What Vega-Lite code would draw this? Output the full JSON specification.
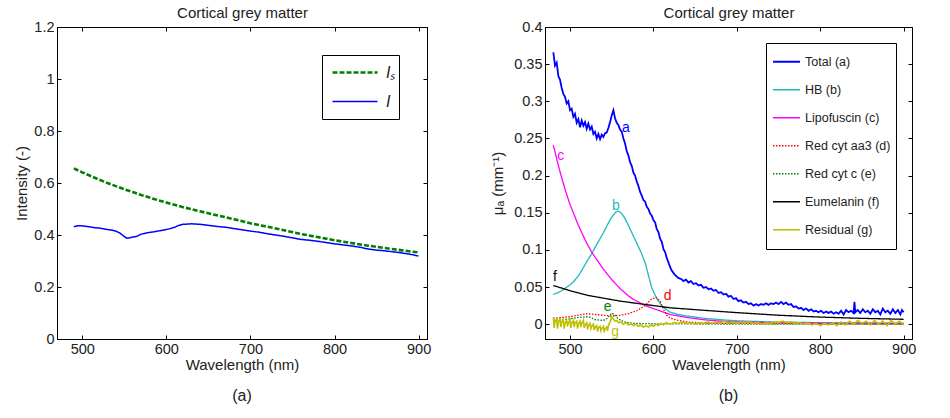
{
  "$schema": "https://vega.github.io/schema/vega-lite/v6.json",
  "padding": {"left": 14, "top": 5, "right": 5, "bottom": 5},
  "background": "white",
  "config": {
    "font": "Liberation Sans",
    "view": {"stroke": "#000", "strokeWidth": 1},
    "axis": {"grid": false, "domainColor": "#000", "tickColor": "#000", "tickSize": -4, "labelPadding": 7, "labelFontSize": 14.5, "labelColor": "#222", "titleFontSize": 15, "titleFontWeight": "normal", "titleColor": "#222", "labelFont": "Liberation Sans", "titleFont": "Liberation Sans"},
    "title": {"font": "Liberation Sans", "fontWeight": "normal", "color": "#222"}
  },
  "datasets": {
    "left": [
      {"series":"Iₛ","wl":490,"val":0.656},{"series":"Iₛ","wl":500,"val":0.641},{"series":"Iₛ","wl":510,"val":0.627},{"series":"Iₛ","wl":520,"val":0.613},{"series":"Iₛ","wl":530,"val":0.600},{"series":"Iₛ","wl":540,"val":0.588},{"series":"Iₛ","wl":550,"val":0.576},{"series":"Iₛ","wl":560,"val":0.565},{"series":"Iₛ","wl":570,"val":0.554},{"series":"Iₛ","wl":580,"val":0.544},{"series":"Iₛ","wl":590,"val":0.534},{"series":"Iₛ","wl":600,"val":0.525},{"series":"Iₛ","wl":620,"val":0.507},{"series":"Iₛ","wl":640,"val":0.491},{"series":"Iₛ","wl":660,"val":0.476},{"series":"Iₛ","wl":680,"val":0.461},{"series":"Iₛ","wl":700,"val":0.445},{"series":"Iₛ","wl":720,"val":0.432},{"series":"Iₛ","wl":740,"val":0.418},{"series":"Iₛ","wl":760,"val":0.404},{"series":"Iₛ","wl":780,"val":0.392},{"series":"Iₛ","wl":800,"val":0.380},{"series":"Iₛ","wl":820,"val":0.369},{"series":"Iₛ","wl":840,"val":0.359},{"series":"Iₛ","wl":860,"val":0.350},{"series":"Iₛ","wl":880,"val":0.341},{"series":"Iₛ","wl":900,"val":0.333},
      {"series":"I","wl":490,"val":0.432},{"series":"I","wl":495,"val":0.436},{"series":"I","wl":500,"val":0.435},{"series":"I","wl":505,"val":0.433},{"series":"I","wl":510,"val":0.431},{"series":"I","wl":515,"val":0.428},{"series":"I","wl":520,"val":0.427},{"series":"I","wl":525,"val":0.424},{"series":"I","wl":530,"val":0.421},{"series":"I","wl":535,"val":0.419},{"series":"I","wl":540,"val":0.415},{"series":"I","wl":545,"val":0.407},{"series":"I","wl":550,"val":0.394},{"series":"I","wl":553,"val":0.388},{"series":"I","wl":556,"val":0.389},{"series":"I","wl":560,"val":0.392},{"series":"I","wl":565,"val":0.395},{"series":"I","wl":570,"val":0.403},{"series":"I","wl":575,"val":0.407},{"series":"I","wl":580,"val":0.410},{"series":"I","wl":585,"val":0.412},{"series":"I","wl":590,"val":0.415},{"series":"I","wl":595,"val":0.418},{"series":"I","wl":600,"val":0.421},{"series":"I","wl":605,"val":0.425},{"series":"I","wl":610,"val":0.430},{"series":"I","wl":615,"val":0.437},{"series":"I","wl":620,"val":0.441},{"series":"I","wl":625,"val":0.442},{"series":"I","wl":630,"val":0.443},{"series":"I","wl":635,"val":0.442},{"series":"I","wl":640,"val":0.441},{"series":"I","wl":650,"val":0.437},{"series":"I","wl":660,"val":0.433},{"series":"I","wl":670,"val":0.430},{"series":"I","wl":680,"val":0.425},{"series":"I","wl":690,"val":0.420},{"series":"I","wl":700,"val":0.415},{"series":"I","wl":710,"val":0.411},{"series":"I","wl":720,"val":0.405},{"series":"I","wl":730,"val":0.400},{"series":"I","wl":740,"val":0.395},{"series":"I","wl":750,"val":0.389},{"series":"I","wl":760,"val":0.383},{"series":"I","wl":770,"val":0.380},{"series":"I","wl":780,"val":0.376},{"series":"I","wl":790,"val":0.371},{"series":"I","wl":800,"val":0.366},{"series":"I","wl":810,"val":0.362},{"series":"I","wl":820,"val":0.358},{"series":"I","wl":830,"val":0.353},{"series":"I","wl":840,"val":0.346},{"series":"I","wl":850,"val":0.342},{"series":"I","wl":860,"val":0.339},{"series":"I","wl":870,"val":0.335},{"series":"I","wl":880,"val":0.331},{"series":"I","wl":890,"val":0.326},{"series":"I","wl":900,"val":0.319}
    ],
    "right": [
      {"series":"Total (a)","wl":480,"mua":0.366},{"series":"Total (a)","wl":482,"mua":0.348},{"series":"Total (a)","wl":484,"mua":0.352},{"series":"Total (a)","wl":486,"mua":0.334},{"series":"Total (a)","wl":488,"mua":0.329},{"series":"Total (a)","wl":490,"mua":0.318},{"series":"Total (a)","wl":492,"mua":0.310},{"series":"Total (a)","wl":494,"mua":0.306},{"series":"Total (a)","wl":496,"mua":0.297},{"series":"Total (a)","wl":498,"mua":0.300},{"series":"Total (a)","wl":500,"mua":0.288},{"series":"Total (a)","wl":502,"mua":0.290},{"series":"Total (a)","wl":504,"mua":0.279},{"series":"Total (a)","wl":506,"mua":0.283},{"series":"Total (a)","wl":508,"mua":0.271},{"series":"Total (a)","wl":510,"mua":0.276},{"series":"Total (a)","wl":512,"mua":0.265},{"series":"Total (a)","wl":514,"mua":0.274},{"series":"Total (a)","wl":516,"mua":0.267},{"series":"Total (a)","wl":518,"mua":0.272},{"series":"Total (a)","wl":520,"mua":0.263},{"series":"Total (a)","wl":522,"mua":0.270},{"series":"Total (a)","wl":524,"mua":0.262},{"series":"Total (a)","wl":526,"mua":0.266},{"series":"Total (a)","wl":528,"mua":0.256},{"series":"Total (a)","wl":530,"mua":0.259},{"series":"Total (a)","wl":532,"mua":0.250},{"series":"Total (a)","wl":534,"mua":0.256},{"series":"Total (a)","wl":536,"mua":0.249},{"series":"Total (a)","wl":538,"mua":0.255},{"series":"Total (a)","wl":540,"mua":0.252},{"series":"Total (a)","wl":542,"mua":0.257},{"series":"Total (a)","wl":544,"mua":0.258},{"series":"Total (a)","wl":546,"mua":0.264},{"series":"Total (a)","wl":548,"mua":0.272},{"series":"Total (a)","wl":550,"mua":0.281},{"series":"Total (a)","wl":552,"mua":0.288},{"series":"Total (a)","wl":554,"mua":0.277},{"series":"Total (a)","wl":556,"mua":0.271},{"series":"Total (a)","wl":558,"mua":0.268},{"series":"Total (a)","wl":560,"mua":0.262},{"series":"Total (a)","wl":562,"mua":0.259},{"series":"Total (a)","wl":564,"mua":0.250},{"series":"Total (a)","wl":566,"mua":0.243},{"series":"Total (a)","wl":568,"mua":0.233},{"series":"Total (a)","wl":570,"mua":0.227},{"series":"Total (a)","wl":572,"mua":0.218},{"series":"Total (a)","wl":574,"mua":0.213},{"series":"Total (a)","wl":576,"mua":0.204},{"series":"Total (a)","wl":578,"mua":0.200},{"series":"Total (a)","wl":580,"mua":0.192},{"series":"Total (a)","wl":582,"mua":0.186},{"series":"Total (a)","wl":584,"mua":0.178},{"series":"Total (a)","wl":586,"mua":0.173},{"series":"Total (a)","wl":588,"mua":0.167},{"series":"Total (a)","wl":590,"mua":0.165},{"series":"Total (a)","wl":592,"mua":0.158},{"series":"Total (a)","wl":594,"mua":0.155},{"series":"Total (a)","wl":596,"mua":0.149},{"series":"Total (a)","wl":598,"mua":0.146},{"series":"Total (a)","wl":600,"mua":0.140},{"series":"Total (a)","wl":602,"mua":0.137},{"series":"Total (a)","wl":604,"mua":0.128},{"series":"Total (a)","wl":606,"mua":0.124},{"series":"Total (a)","wl":608,"mua":0.115},{"series":"Total (a)","wl":610,"mua":0.111},{"series":"Total (a)","wl":612,"mua":0.101},{"series":"Total (a)","wl":614,"mua":0.097},{"series":"Total (a)","wl":616,"mua":0.089},{"series":"Total (a)","wl":618,"mua":0.083},{"series":"Total (a)","wl":620,"mua":0.077},{"series":"Total (a)","wl":622,"mua":0.072},{"series":"Total (a)","wl":624,"mua":0.069},{"series":"Total (a)","wl":626,"mua":0.066},{"series":"Total (a)","wl":628,"mua":0.064},{"series":"Total (a)","wl":630,"mua":0.062},{"series":"Total (a)","wl":633,"mua":0.061},{"series":"Total (a)","wl":636,"mua":0.058},{"series":"Total (a)","wl":639,"mua":0.060},{"series":"Total (a)","wl":642,"mua":0.056},{"series":"Total (a)","wl":645,"mua":0.058},{"series":"Total (a)","wl":648,"mua":0.054},{"series":"Total (a)","wl":651,"mua":0.055},{"series":"Total (a)","wl":654,"mua":0.052},{"series":"Total (a)","wl":657,"mua":0.053},{"series":"Total (a)","wl":660,"mua":0.049},{"series":"Total (a)","wl":663,"mua":0.050},{"series":"Total (a)","wl":666,"mua":0.047},{"series":"Total (a)","wl":669,"mua":0.048},{"series":"Total (a)","wl":672,"mua":0.045},{"series":"Total (a)","wl":675,"mua":0.046},{"series":"Total (a)","wl":678,"mua":0.042},{"series":"Total (a)","wl":681,"mua":0.043},{"series":"Total (a)","wl":684,"mua":0.040},{"series":"Total (a)","wl":687,"mua":0.041},{"series":"Total (a)","wl":690,"mua":0.037},{"series":"Total (a)","wl":693,"mua":0.038},{"series":"Total (a)","wl":696,"mua":0.034},{"series":"Total (a)","wl":699,"mua":0.035},{"series":"Total (a)","wl":702,"mua":0.031},{"series":"Total (a)","wl":705,"mua":0.032},{"series":"Total (a)","wl":708,"mua":0.029},{"series":"Total (a)","wl":711,"mua":0.030},{"series":"Total (a)","wl":714,"mua":0.027},{"series":"Total (a)","wl":717,"mua":0.028},{"series":"Total (a)","wl":720,"mua":0.025},{"series":"Total (a)","wl":723,"mua":0.027},{"series":"Total (a)","wl":726,"mua":0.025},{"series":"Total (a)","wl":729,"mua":0.027},{"series":"Total (a)","wl":732,"mua":0.026},{"series":"Total (a)","wl":735,"mua":0.028},{"series":"Total (a)","wl":738,"mua":0.026},{"series":"Total (a)","wl":741,"mua":0.028},{"series":"Total (a)","wl":744,"mua":0.027},{"series":"Total (a)","wl":747,"mua":0.029},{"series":"Total (a)","wl":750,"mua":0.027},{"series":"Total (a)","wl":753,"mua":0.030},{"series":"Total (a)","wl":756,"mua":0.027},{"series":"Total (a)","wl":759,"mua":0.029},{"series":"Total (a)","wl":762,"mua":0.026},{"series":"Total (a)","wl":765,"mua":0.027},{"series":"Total (a)","wl":768,"mua":0.023},{"series":"Total (a)","wl":771,"mua":0.024},{"series":"Total (a)","wl":774,"mua":0.021},{"series":"Total (a)","wl":777,"mua":0.022},{"series":"Total (a)","wl":780,"mua":0.019},{"series":"Total (a)","wl":783,"mua":0.021},{"series":"Total (a)","wl":786,"mua":0.018},{"series":"Total (a)","wl":789,"mua":0.020},{"series":"Total (a)","wl":792,"mua":0.017},{"series":"Total (a)","wl":795,"mua":0.018},{"series":"Total (a)","wl":798,"mua":0.016},{"series":"Total (a)","wl":801,"mua":0.018},{"series":"Total (a)","wl":804,"mua":0.015},{"series":"Total (a)","wl":807,"mua":0.017},{"series":"Total (a)","wl":810,"mua":0.015},{"series":"Total (a)","wl":813,"mua":0.017},{"series":"Total (a)","wl":816,"mua":0.014},{"series":"Total (a)","wl":819,"mua":0.016},{"series":"Total (a)","wl":822,"mua":0.014},{"series":"Total (a)","wl":825,"mua":0.018},{"series":"Total (a)","wl":828,"mua":0.013},{"series":"Total (a)","wl":831,"mua":0.019},{"series":"Total (a)","wl":834,"mua":0.016},{"series":"Total (a)","wl":837,"mua":0.018},{"series":"Total (a)","wl":840,"mua":0.015},{"series":"Total (a)","wl":841,"mua":0.030},{"series":"Total (a)","wl":842,"mua":0.016},{"series":"Total (a)","wl":845,"mua":0.019},{"series":"Total (a)","wl":848,"mua":0.015},{"series":"Total (a)","wl":851,"mua":0.020},{"series":"Total (a)","wl":854,"mua":0.016},{"series":"Total (a)","wl":857,"mua":0.018},{"series":"Total (a)","wl":860,"mua":0.014},{"series":"Total (a)","wl":863,"mua":0.020},{"series":"Total (a)","wl":866,"mua":0.016},{"series":"Total (a)","wl":869,"mua":0.018},{"series":"Total (a)","wl":872,"mua":0.013},{"series":"Total (a)","wl":875,"mua":0.021},{"series":"Total (a)","wl":878,"mua":0.016},{"series":"Total (a)","wl":881,"mua":0.018},{"series":"Total (a)","wl":884,"mua":0.014},{"series":"Total (a)","wl":887,"mua":0.020},{"series":"Total (a)","wl":890,"mua":0.015},{"series":"Total (a)","wl":893,"mua":0.019},{"series":"Total (a)","wl":896,"mua":0.013},{"series":"Total (a)","wl":898,"mua":0.019},{"series":"Total (a)","wl":900,"mua":0.016},
      {"series":"HB (b)","wl":480,"mua":0.040},{"series":"HB (b)","wl":485,"mua":0.042},{"series":"HB (b)","wl":490,"mua":0.045},{"series":"HB (b)","wl":495,"mua":0.049},{"series":"HB (b)","wl":500,"mua":0.053},{"series":"HB (b)","wl":505,"mua":0.058},{"series":"HB (b)","wl":510,"mua":0.065},{"series":"HB (b)","wl":515,"mua":0.074},{"series":"HB (b)","wl":520,"mua":0.084},{"series":"HB (b)","wl":525,"mua":0.093},{"series":"HB (b)","wl":530,"mua":0.103},{"series":"HB (b)","wl":535,"mua":0.113},{"series":"HB (b)","wl":540,"mua":0.123},{"series":"HB (b)","wl":545,"mua":0.134},{"series":"HB (b)","wl":550,"mua":0.144},{"series":"HB (b)","wl":555,"mua":0.151},{"series":"HB (b)","wl":558,"mua":0.152},{"series":"HB (b)","wl":561,"mua":0.150},{"series":"HB (b)","wl":565,"mua":0.144},{"series":"HB (b)","wl":570,"mua":0.133},{"series":"HB (b)","wl":575,"mua":0.121},{"series":"HB (b)","wl":580,"mua":0.109},{"series":"HB (b)","wl":585,"mua":0.097},{"series":"HB (b)","wl":590,"mua":0.083},{"series":"HB (b)","wl":594,"mua":0.066},{"series":"HB (b)","wl":598,"mua":0.049},{"series":"HB (b)","wl":602,"mua":0.039},{"series":"HB (b)","wl":606,"mua":0.031},{"series":"HB (b)","wl":610,"mua":0.025},{"series":"HB (b)","wl":615,"mua":0.020},{"series":"HB (b)","wl":620,"mua":0.016},{"series":"HB (b)","wl":630,"mua":0.013},{"series":"HB (b)","wl":640,"mua":0.011},{"series":"HB (b)","wl":660,"mua":0.008},{"series":"HB (b)","wl":680,"mua":0.006},{"series":"HB (b)","wl":700,"mua":0.0045},{"series":"HB (b)","wl":740,"mua":0.003},{"series":"HB (b)","wl":800,"mua":0.002},{"series":"HB (b)","wl":900,"mua":0.001},
      {"series":"Lipofuscin (c)","wl":480,"mua":0.241},{"series":"Lipofuscin (c)","wl":485,"mua":0.218},{"series":"Lipofuscin (c)","wl":490,"mua":0.197},{"series":"Lipofuscin (c)","wl":495,"mua":0.178},{"series":"Lipofuscin (c)","wl":500,"mua":0.161},{"series":"Lipofuscin (c)","wl":505,"mua":0.147},{"series":"Lipofuscin (c)","wl":510,"mua":0.133},{"series":"Lipofuscin (c)","wl":515,"mua":0.121},{"series":"Lipofuscin (c)","wl":520,"mua":0.109},{"series":"Lipofuscin (c)","wl":525,"mua":0.099},{"series":"Lipofuscin (c)","wl":530,"mua":0.090},{"series":"Lipofuscin (c)","wl":535,"mua":0.082},{"series":"Lipofuscin (c)","wl":540,"mua":0.074},{"series":"Lipofuscin (c)","wl":545,"mua":0.067},{"series":"Lipofuscin (c)","wl":550,"mua":0.060},{"series":"Lipofuscin (c)","wl":555,"mua":0.054},{"series":"Lipofuscin (c)","wl":560,"mua":0.048},{"series":"Lipofuscin (c)","wl":565,"mua":0.043},{"series":"Lipofuscin (c)","wl":570,"mua":0.038},{"series":"Lipofuscin (c)","wl":575,"mua":0.034},{"series":"Lipofuscin (c)","wl":580,"mua":0.031},{"series":"Lipofuscin (c)","wl":585,"mua":0.028},{"series":"Lipofuscin (c)","wl":590,"mua":0.025},{"series":"Lipofuscin (c)","wl":595,"mua":0.023},{"series":"Lipofuscin (c)","wl":600,"mua":0.021},{"series":"Lipofuscin (c)","wl":610,"mua":0.017},{"series":"Lipofuscin (c)","wl":620,"mua":0.013},{"series":"Lipofuscin (c)","wl":630,"mua":0.011},{"series":"Lipofuscin (c)","wl":640,"mua":0.009},{"series":"Lipofuscin (c)","wl":660,"mua":0.006},{"series":"Lipofuscin (c)","wl":680,"mua":0.004},{"series":"Lipofuscin (c)","wl":700,"mua":0.003},{"series":"Lipofuscin (c)","wl":750,"mua":0.002},{"series":"Lipofuscin (c)","wl":800,"mua":0.0015},{"series":"Lipofuscin (c)","wl":900,"mua":0.001},
      {"series":"Red cyt aa3 (d)","wl":480,"mua":0.008},{"series":"Red cyt aa3 (d)","wl":490,"mua":0.009},{"series":"Red cyt aa3 (d)","wl":500,"mua":0.010},{"series":"Red cyt aa3 (d)","wl":510,"mua":0.012},{"series":"Red cyt aa3 (d)","wl":520,"mua":0.014},{"series":"Red cyt aa3 (d)","wl":530,"mua":0.013},{"series":"Red cyt aa3 (d)","wl":540,"mua":0.012},{"series":"Red cyt aa3 (d)","wl":550,"mua":0.011},{"series":"Red cyt aa3 (d)","wl":560,"mua":0.012},{"series":"Red cyt aa3 (d)","wl":570,"mua":0.014},{"series":"Red cyt aa3 (d)","wl":580,"mua":0.018},{"series":"Red cyt aa3 (d)","wl":590,"mua":0.025},{"series":"Red cyt aa3 (d)","wl":597,"mua":0.033},{"series":"Red cyt aa3 (d)","wl":603,"mua":0.036},{"series":"Red cyt aa3 (d)","wl":608,"mua":0.031},{"series":"Red cyt aa3 (d)","wl":612,"mua":0.020},{"series":"Red cyt aa3 (d)","wl":616,"mua":0.012},{"series":"Red cyt aa3 (d)","wl":620,"mua":0.008},{"series":"Red cyt aa3 (d)","wl":630,"mua":0.005},{"series":"Red cyt aa3 (d)","wl":640,"mua":0.003},{"series":"Red cyt aa3 (d)","wl":660,"mua":0.0015},{"series":"Red cyt aa3 (d)","wl":700,"mua":0.001},{"series":"Red cyt aa3 (d)","wl":800,"mua":0.0005},{"series":"Red cyt aa3 (d)","wl":900,"mua":0.0},
      {"series":"Red cyt c (e)","wl":480,"mua":0.005},{"series":"Red cyt c (e)","wl":490,"mua":0.006},{"series":"Red cyt c (e)","wl":500,"mua":0.007},{"series":"Red cyt c (e)","wl":510,"mua":0.009},{"series":"Red cyt c (e)","wl":520,"mua":0.010},{"series":"Red cyt c (e)","wl":525,"mua":0.009},{"series":"Red cyt c (e)","wl":530,"mua":0.006},{"series":"Red cyt c (e)","wl":540,"mua":0.005},{"series":"Red cyt c (e)","wl":545,"mua":0.008},{"series":"Red cyt c (e)","wl":550,"mua":0.015},{"series":"Red cyt c (e)","wl":553,"mua":0.013},{"series":"Red cyt c (e)","wl":558,"mua":0.007},{"series":"Red cyt c (e)","wl":565,"mua":0.003},{"series":"Red cyt c (e)","wl":575,"mua":0.001},{"series":"Red cyt c (e)","wl":600,"mua":0.0005},{"series":"Red cyt c (e)","wl":700,"mua":0.0},{"series":"Red cyt c (e)","wl":900,"mua":0.0},
      {"series":"Eumelanin (f)","wl":480,"mua":0.052},{"series":"Eumelanin (f)","wl":500,"mua":0.045},{"series":"Eumelanin (f)","wl":520,"mua":0.039},{"series":"Eumelanin (f)","wl":540,"mua":0.035},{"series":"Eumelanin (f)","wl":560,"mua":0.031},{"series":"Eumelanin (f)","wl":580,"mua":0.028},{"series":"Eumelanin (f)","wl":600,"mua":0.025},{"series":"Eumelanin (f)","wl":620,"mua":0.022},{"series":"Eumelanin (f)","wl":650,"mua":0.0195},{"series":"Eumelanin (f)","wl":700,"mua":0.0155},{"series":"Eumelanin (f)","wl":750,"mua":0.012},{"series":"Eumelanin (f)","wl":800,"mua":0.0095},{"series":"Eumelanin (f)","wl":850,"mua":0.0078},{"series":"Eumelanin (f)","wl":900,"mua":0.0065},
      {"series":"Residual (g)","wl":480,"mua":0.009},{"series":"Residual (g)","wl":481,"mua":-0.005},{"series":"Residual (g)","wl":482,"mua":0.004},{"series":"Residual (g)","wl":484,"mua":0.007},{"series":"Residual (g)","wl":485,"mua":-0.006},{"series":"Residual (g)","wl":486,"mua":0.002},{"series":"Residual (g)","wl":488,"mua":0.008},{"series":"Residual (g)","wl":489,"mua":-0.004},{"series":"Residual (g)","wl":490,"mua":0.003},{"series":"Residual (g)","wl":492,"mua":0.006},{"series":"Residual (g)","wl":493,"mua":-0.006},{"series":"Residual (g)","wl":494,"mua":0.001},{"series":"Residual (g)","wl":496,"mua":0.005},{"series":"Residual (g)","wl":497,"mua":-0.003},{"series":"Residual (g)","wl":498,"mua":0.002},{"series":"Residual (g)","wl":500,"mua":0.006},{"series":"Residual (g)","wl":501,"mua":-0.005},{"series":"Residual (g)","wl":502,"mua":0.001},{"series":"Residual (g)","wl":504,"mua":0.005},{"series":"Residual (g)","wl":505,"mua":-0.004},{"series":"Residual (g)","wl":506,"mua":0.002},{"series":"Residual (g)","wl":508,"mua":0.004},{"series":"Residual (g)","wl":509,"mua":-0.006},{"series":"Residual (g)","wl":510,"mua":0.000},{"series":"Residual (g)","wl":512,"mua":0.004},{"series":"Residual (g)","wl":513,"mua":-0.004},{"series":"Residual (g)","wl":514,"mua":0.001},{"series":"Residual (g)","wl":516,"mua":0.005},{"series":"Residual (g)","wl":517,"mua":-0.005},{"series":"Residual (g)","wl":518,"mua":-0.001},{"series":"Residual (g)","wl":520,"mua":0.002},{"series":"Residual (g)","wl":521,"mua":-0.007},{"series":"Residual (g)","wl":522,"mua":-0.002},{"series":"Residual (g)","wl":524,"mua":0.001},{"series":"Residual (g)","wl":525,"mua":-0.006},{"series":"Residual (g)","wl":526,"mua":-0.003},{"series":"Residual (g)","wl":528,"mua":0.000},{"series":"Residual (g)","wl":529,"mua":-0.008},{"series":"Residual (g)","wl":530,"mua":-0.004},{"series":"Residual (g)","wl":532,"mua":-0.002},{"series":"Residual (g)","wl":533,"mua":-0.010},{"series":"Residual (g)","wl":534,"mua":-0.005},{"series":"Residual (g)","wl":536,"mua":-0.003},{"series":"Residual (g)","wl":537,"mua":-0.009},{"series":"Residual (g)","wl":538,"mua":-0.006},{"series":"Residual (g)","wl":540,"mua":-0.003},{"series":"Residual (g)","wl":541,"mua":-0.011},{"series":"Residual (g)","wl":542,"mua":-0.006},{"series":"Residual (g)","wl":544,"mua":-0.004},{"series":"Residual (g)","wl":545,"mua":-0.009},{"series":"Residual (g)","wl":546,"mua":-0.002},{"series":"Residual (g)","wl":548,"mua":0.003},{"series":"Residual (g)","wl":550,"mua":0.010},{"series":"Residual (g)","wl":552,"mua":0.007},{"series":"Residual (g)","wl":554,"mua":0.004},{"series":"Residual (g)","wl":556,"mua":0.005},{"series":"Residual (g)","wl":558,"mua":0.002},{"series":"Residual (g)","wl":561,"mua":0.003},{"series":"Residual (g)","wl":564,"mua":0.000},{"series":"Residual (g)","wl":567,"mua":0.002},{"series":"Residual (g)","wl":570,"mua":-0.001},{"series":"Residual (g)","wl":573,"mua":0.001},{"series":"Residual (g)","wl":576,"mua":-0.002},{"series":"Residual (g)","wl":579,"mua":0.000},{"series":"Residual (g)","wl":582,"mua":-0.003},{"series":"Residual (g)","wl":585,"mua":-0.001},{"series":"Residual (g)","wl":588,"mua":-0.004},{"series":"Residual (g)","wl":591,"mua":-0.002},{"series":"Residual (g)","wl":594,"mua":-0.004},{"series":"Residual (g)","wl":597,"mua":-0.001},{"series":"Residual (g)","wl":600,"mua":-0.003},{"series":"Residual (g)","wl":603,"mua":0.000},{"series":"Residual (g)","wl":606,"mua":-0.002},{"series":"Residual (g)","wl":609,"mua":0.001},{"series":"Residual (g)","wl":612,"mua":-0.001},{"series":"Residual (g)","wl":615,"mua":0.002},{"series":"Residual (g)","wl":620,"mua":0.000},{"series":"Residual (g)","wl":625,"mua":0.002},{"series":"Residual (g)","wl":630,"mua":0.001},{"series":"Residual (g)","wl":635,"mua":0.003},{"series":"Residual (g)","wl":640,"mua":0.001},{"series":"Residual (g)","wl":645,"mua":0.002},{"series":"Residual (g)","wl":650,"mua":0.000},{"series":"Residual (g)","wl":655,"mua":0.002},{"series":"Residual (g)","wl":660,"mua":0.001},{"series":"Residual (g)","wl":665,"mua":0.003},{"series":"Residual (g)","wl":670,"mua":0.001},{"series":"Residual (g)","wl":675,"mua":0.003},{"series":"Residual (g)","wl":680,"mua":0.002},{"series":"Residual (g)","wl":685,"mua":0.004},{"series":"Residual (g)","wl":690,"mua":0.002},{"series":"Residual (g)","wl":695,"mua":0.003},{"series":"Residual (g)","wl":700,"mua":0.001},{"series":"Residual (g)","wl":705,"mua":0.003},{"series":"Residual (g)","wl":710,"mua":0.002},{"series":"Residual (g)","wl":715,"mua":0.003},{"series":"Residual (g)","wl":720,"mua":0.001},{"series":"Residual (g)","wl":725,"mua":0.002},{"series":"Residual (g)","wl":730,"mua":0.000},{"series":"Residual (g)","wl":735,"mua":0.002},{"series":"Residual (g)","wl":740,"mua":0.001},{"series":"Residual (g)","wl":745,"mua":0.003},{"series":"Residual (g)","wl":750,"mua":0.002},{"series":"Residual (g)","wl":755,"mua":0.004},{"series":"Residual (g)","wl":760,"mua":0.002},{"series":"Residual (g)","wl":765,"mua":0.003},{"series":"Residual (g)","wl":770,"mua":0.001},{"series":"Residual (g)","wl":775,"mua":0.002},{"series":"Residual (g)","wl":780,"mua":0.000},{"series":"Residual (g)","wl":785,"mua":0.002},{"series":"Residual (g)","wl":790,"mua":-0.001},{"series":"Residual (g)","wl":795,"mua":0.001},{"series":"Residual (g)","wl":800,"mua":-0.002},{"series":"Residual (g)","wl":805,"mua":0.001},{"series":"Residual (g)","wl":810,"mua":-0.001},{"series":"Residual (g)","wl":815,"mua":0.002},{"series":"Residual (g)","wl":820,"mua":-0.002},{"series":"Residual (g)","wl":825,"mua":0.003},{"series":"Residual (g)","wl":830,"mua":-0.001},{"series":"Residual (g)","wl":835,"mua":0.004},{"series":"Residual (g)","wl":840,"mua":0.000},{"series":"Residual (g)","wl":845,"mua":0.005},{"series":"Residual (g)","wl":850,"mua":0.001},{"series":"Residual (g)","wl":855,"mua":0.004},{"series":"Residual (g)","wl":860,"mua":-0.001},{"series":"Residual (g)","wl":865,"mua":0.005},{"series":"Residual (g)","wl":870,"mua":0.000},{"series":"Residual (g)","wl":875,"mua":0.004},{"series":"Residual (g)","wl":880,"mua":-0.002},{"series":"Residual (g)","wl":885,"mua":0.005},{"series":"Residual (g)","wl":890,"mua":0.000},{"series":"Residual (g)","wl":895,"mua":0.004},{"series":"Residual (g)","wl":900,"mua":-0.001}
    ],
    "labels": [
      {"series":"Total (a)","wl":567,"mua":0.264,"tag":"a"},
      {"series":"HB (b)","wl":555,"mua":0.159,"tag":"b"},
      {"series":"Lipofuscin (c)","wl":489,"mua":0.226,"tag":"c"},
      {"series":"Red cyt aa3 (d)","wl":617,"mua":0.0375,"tag":"d"},
      {"series":"Red cyt c (e)","wl":545,"mua":0.0226,"tag":"e"},
      {"series":"Eumelanin (f)","wl":482,"mua":0.063,"tag":"f"},
      {"series":"Residual (g)","wl":554,"mua":-0.011,"tag":"g"}
    ]
  },
  "hconcat": [
    {
      "title": {"text": "(a)", "orient": "bottom", "fontSize": 16, "offset": 15},
      "width": 370,
      "height": 312,
      "data": {"name": "left"},
      "layer": [
        {
          "mark": {"type": "line", "clip": true},
          "encoding": {
            "x": {"field": "wl", "type": "quantitative", "scale": {"domain": [470, 910], "nice": false, "zero": false}, "axis": {"orient": "bottom", "values": [500, 600, 700, 800, 900], "title": "Wavelength (nm)", "titlePadding": 2}},
            "y": {"field": "val", "type": "quantitative", "scale": {"domain": [0, 1.2], "nice": false}, "axis": {"orient": "left", "values": [0, 0.2, 0.4, 0.6, 0.8, 1, 1.2], "format": "~g", "title": "Intensity (-)", "titlePadding": 4}},
            "color": {"field": "series", "type": "nominal", "scale": {"domain": ["Iₛ", "I"], "range": ["#008000", "#0000FF"]},
              "legend": {"orient": "top-right", "offset": 28, "title": null, "symbolType": "stroke", "symbolSize": 2025, "clipHeight": 29, "rowPadding": 0, "padding": 3, "strokeColor": "black", "fillColor": "white", "labelFontSize": 16, "labelFontStyle": "italic", "labelColor": "#222", "labelOffset": 7, "symbolOffset": 6, "labelExpr": "datum.label + '\u00a0\u00a0\u00a0'"}},
            "strokeDash": {"field": "series", "type": "nominal", "scale": {"domain": ["Iₛ", "I"], "range": [[5, 2], [1, 0]]}},
            "strokeWidth": {"field": "series", "type": "nominal", "scale": {"type": "ordinal", "domain": ["Iₛ", "I"], "range": [2.6, 1.5]}}
          }
        },
        {
          "mark": {"type": "point", "opacity": 0},
          "encoding": {
            "x": {"field": "wl", "type": "quantitative", "scale": {"domain": [470, 910], "nice": false, "zero": false}, "axis": {"orient": "top", "values": [500, 600, 700, 800, 900], "labels": false, "title": "Cortical grey matter", "titlePadding": 6}},
            "y": {"field": "val", "type": "quantitative", "scale": {"domain": [0, 1.2], "nice": false}, "axis": {"orient": "right", "values": [0, 0.2, 0.4, 0.6, 0.8, 1, 1.2], "labels": false, "title": null}}
          }
        }
      ],
      "resolve": {"axis": {"x": "independent", "y": "independent"}}
    },
    {
      "title": {"text": "(b)", "orient": "bottom", "fontSize": 16, "offset": 15},
      "width": 367,
      "height": 312,
      "layer": [
        {
          "data": {"name": "right"},
          "mark": {"type": "line", "clip": true},
          "encoding": {
            "x": {"field": "wl", "type": "quantitative", "scale": {"domain": [470, 910], "nice": false, "zero": false}, "axis": {"orient": "bottom", "values": [500, 600, 700, 800, 900], "title": "Wavelength (nm)", "titlePadding": 2}},
            "y": {"field": "mua", "type": "quantitative", "scale": {"domain": [-0.02, 0.4], "nice": false, "zero": false}, "axis": {"orient": "left", "values": [0, 0.05, 0.1, 0.15, 0.2, 0.25, 0.3, 0.35, 0.4], "format": "~g", "title": "μₐ (mm⁻¹)", "titlePadding": 8}},
            "color": {"field": "series", "type": "nominal", "scale": {"domain": ["Total (a)", "HB (b)", "Lipofuscin (c)", "Red cyt aa3 (d)", "Red cyt c (e)", "Eumelanin (f)", "Residual (g)"], "range": ["#0000FF", "#1FBABA", "#FF00FF", "#FF0000", "#008000", "#000000", "#BFBF00"]},
              "legend": {"orient": "top-right", "offset": 16, "title": null, "symbolType": "stroke", "symbolSize": 729, "clipHeight": 27.5, "rowPadding": 0, "padding": 5, "strokeColor": "black", "fillColor": "white", "labelFontSize": 12.5, "labelColor": "#222", "labelOffset": 4, "symbolOffset": 1}},
            "strokeDash": {"field": "series", "type": "nominal", "scale": {"domain": ["Total (a)", "HB (b)", "Lipofuscin (c)", "Red cyt aa3 (d)", "Red cyt c (e)", "Eumelanin (f)", "Residual (g)"], "range": [[1, 0], [1, 0], [1, 0], [1.5, 1.5], [1.5, 1.5], [1, 0], [1, 0]]}},
            "strokeWidth": {"field": "series", "type": "nominal", "scale": {"type": "ordinal", "domain": ["Total (a)", "HB (b)", "Lipofuscin (c)", "Red cyt aa3 (d)", "Red cyt c (e)", "Eumelanin (f)", "Residual (g)"], "range": [1.8, 1.3, 1.3, 1.3, 1.3, 1.3, 1.6]}}
          }
        },
        {
          "data": {"name": "labels"},
          "mark": {"type": "text", "fontSize": 14, "align": "center", "baseline": "middle"},
          "encoding": {
            "x": {"field": "wl", "type": "quantitative", "scale": {"domain": [470, 910], "nice": false, "zero": false}, "axis": {"orient": "top", "values": [500, 600, 700, 800, 900], "labels": false, "title": "Cortical grey matter", "titlePadding": 6}},
            "y": {"field": "mua", "type": "quantitative", "scale": {"domain": [-0.02, 0.4], "nice": false, "zero": false}, "axis": {"orient": "right", "values": [0, 0.05, 0.1, 0.15, 0.2, 0.25, 0.3, 0.35, 0.4], "labels": false, "title": null}},
            "text": {"field": "tag", "type": "nominal"},
            "color": {"field": "series", "type": "nominal", "legend": null}
          }
        }
      ],
      "resolve": {"axis": {"x": "independent", "y": "independent"}}
    }
  ],
  "spacing": 118,
  "bounds": "flush",
  "resolve": {"scale": {"x": "independent", "y": "independent", "color": "independent", "strokeDash": "independent", "strokeWidth": "independent"}, "legend": {"color": "independent", "strokeDash": "independent", "strokeWidth": "independent"}}
}
